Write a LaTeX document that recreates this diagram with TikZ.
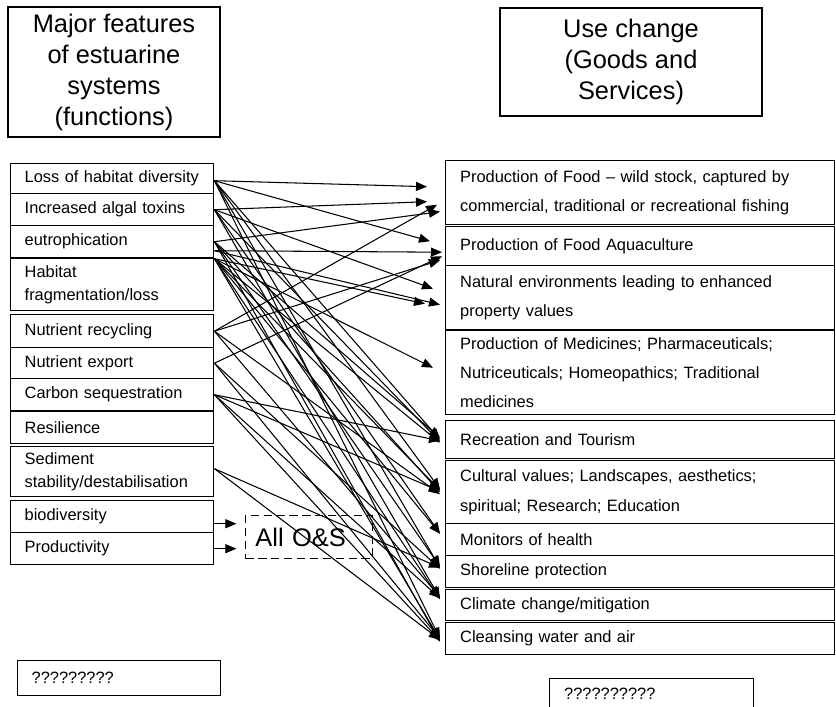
\documentclass[tikz,border=0pt]{standalone}
\usepackage{fontspec}
\setmainfont{Liberation Sans}
\usetikzlibrary{arrows.meta,calc}

\begin{document}
\begin{tikzpicture}[x=0.03cm,y=-0.03cm,
  headbox/.style={draw,line width=2.2pt,align=center,inner sep=0pt,
    font=\fontsize{21.7}{26.5}\selectfont},
  featbox/.style={draw,line width=1.2pt,anchor=north west,minimum width=6.09cm,
    text width=5.25cm,align=left,inner xsep=0.39cm,inner ysep=0pt,
    font=\fontsize{14}{19}\selectfont},
  goodbox/.style={featbox,minimum width=11.67cm,text width=10.8cm,
    font=\fontsize{14}{25}\selectfont},
  link/.style={-{Triangle[length=0.33cm,width=0.27cm]},line width=0.9pt}]
\useasboundingbox (0,0) rectangle (836,707);

% headings
\node[headbox,minimum width=6.36cm,minimum height=3.9cm] (feathead) at (114,72)
  {Major features\\of estuarine\\systems\\(functions)};
\node[headbox,minimum width=7.86cm,minimum height=3.24cm] (goodhead) at (631,62)
  {Use change\\(Goods and\\Services)};

% features (left)
\node[featbox,minimum height=0.90cm] (loss) at (10,163) {Loss of habitat diversity};
\node[featbox,minimum height=0.96cm] (toxin) at (10,193) {Increased algal toxins};
\node[featbox,minimum height=0.96cm] (eutro) at (10,225) {eutrophication};
\node[featbox,minimum height=1.56cm] (frag) at (10,258) {Habitat\\fragmentation/loss};
\node[featbox,minimum height=0.99cm] (recyc) at (10,314) {Nutrient recycling};
\node[featbox,minimum height=0.93cm] (export) at (10,347) {Nutrient export};
\node[featbox,minimum height=0.96cm] (carbon) at (10,378) {Carbon sequestration};
\node[featbox,minimum height=0.96cm] (resil) at (10,411) {Resilience};
\node[featbox,minimum height=1.50cm] (sedim) at (10,446) {Sediment\\stability/destabilisation};
\node[featbox,minimum height=0.96cm] (biodiv) at (10,500) {biodiversity};
\node[featbox,minimum height=0.96cm] (prod) at (10,532) {Productivity};

% goods and services (right)
\node[goodbox,minimum height=1.92cm] (food) at (445,160)
  {Production of Food -- wild stock, captured by\\commercial, traditional or recreational fishing};
\node[goodbox,minimum height=1.17cm] (aqua) at (445,226) {Production of Food Aquaculture};
\node[goodbox,minimum height=1.92cm] (natur) at (445,265)
  {Natural environments leading to enhanced\\property values};
\node[goodbox,minimum height=2.52cm] (medic) at (445,330)
  {Production of Medicines; Pharmaceuticals;\\Nutriceuticals; Homeopathics; Traditional\\medicines};
\node[goodbox,minimum height=1.14cm] (recre) at (445,420) {Recreation and Tourism};
\node[goodbox,minimum height=1.89cm] (cultu) at (445,460)
  {Cultural values; Landscapes, aesthetics;\\spiritual; Research; Education};
\node[goodbox,minimum height=0.96cm] (monit) at (445,523) {Monitors of health};
\node[goodbox,minimum height=0.96cm] (shore) at (445,555) {Shoreline protection};
\node[goodbox,minimum height=0.93cm] (clima) at (445,589) {Climate change/mitigation};
\node[goodbox,minimum height=0.96cm] (clean) at (445,622) {Cleansing water and air};

% all goods and services
\node[draw,dashed,dash pattern=on 7pt off 4pt,line width=0.8pt,anchor=north west,
  minimum width=3.81cm,minimum height=1.29cm,text width=3.21cm,align=left,
  inner xsep=0.3cm,inner ysep=0pt,font=\fontsize{21.7}{26}\selectfont] (allgs) at (245,515) {All O\&S};
\draw[link] ($(biodiv.east)+(0,7)$) -- ++(22,0);
\draw[link] (prod.east) -- ++(22,0);

% unlabelled boxes at the bottom
\node[featbox,minimum height=1.05cm] (noteleft) at (17,660) {?????????};
\node[featbox,minimum width=6.12cm,minimum height=0.9cm] (noteright) at (549,678) {??????????};

% links feature -> good
\foreach \src/\sy/\dst/\dx/\dy in {
  loss/2/food/18/-6, loss/2/aqua/15/-5, toxin/0/food/18/9, toxin/0/natur/12/-9,
  eutro/0/food/5/19, eutro/9/aqua/3/6, eutro/9/natur/5/7, frag/-26/natur/20/6,
  frag/-26/medic/12/-5, recyc/0/food/8/12, recyc/0/aqua/5/14, export/0/aqua/3/10,
  loss/2/recre/5/0, loss/2/cultu/5/-3, loss/2/shore/5/-4, loss/2/clean/5/0,
  toxin/0/recre/5/2, toxin/0/monit/5/-6, toxin/0/clima/5/-7,
  eutro/0/recre/5/-2, eutro/0/cultu/5/0, eutro/0/shore/5/-5, eutro/0/clean/5/3,
  frag/-26/recre/5/3, frag/-26/cultu/5/-2, frag/-26/monit/5/-6, frag/-26/clima/5/-6,
  frag/-26/clean/5/1, recyc/0/cultu/5/2, recyc/0/clima/5/-8,
  export/0/shore/5/-3, export/0/clean/5/0,
  carbon/0/recre/5/1, carbon/0/cultu/5/-1, carbon/0/clima/5/-7, carbon/0/clean/5/2,
  sedim/-3/shore/5/-4, sedim/-3/clean/5/1}
  \draw[link] ($(\src.east)+(0,\sy)$) -- ($(\dst.west)+(-\dx,\dy)$);
\end{tikzpicture}
\end{document}
